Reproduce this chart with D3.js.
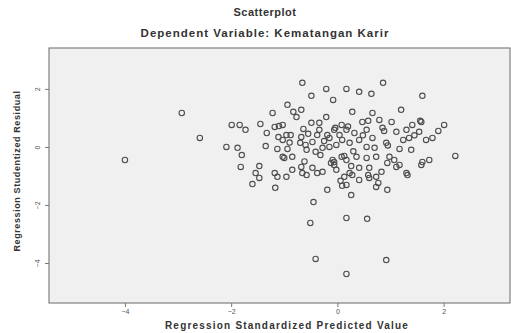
<!DOCTYPE html>
<html>
<head>
<meta charset="utf-8">
<script src="https://cdn.jsdelivr.net/npm/d3@7"></script>
<style>
  body { margin: 0; background: #fff; }
  svg { display: block; font-family: "Liberation Sans", Arial, sans-serif; }
</style>
</head>
<body>
<div id="chart"></div>
<script>
// standardized predicted value (x) and studentized residual (y)
var predicted = [
  -4.00, -2.93, -2.59, -2.09, -1.99, -1.84, -1.73, -1.88, -1.80, -1.82,
  -1.45, -1.47, -1.35, -1.33, -1.22, -1.18, -1.03, -1.11, -0.96, -1.13,
  -1.03, -0.94, -0.85, -0.94, -0.83, -0.77, -0.68, -0.66, -0.49, -0.64,
  -0.68, -0.70, -0.47, -0.49, -0.34, -0.21, -0.08, -0.21, 0.17, -0.34,
  -0.19, -0.06, -0.28, -0.15, -0.41, -0.58, -0.68, -0.58, -0.47, -0.28,
  -0.09, 0.08, 0.09, 0.08, -0.02, 0.13, -1.47, -1.54, -1.18, -1.13,
  -1.17, 0.41, 0.64, 0.86, 1.60, 0.66, 0.28, 1.20, 1.58, 2.01,
  1.41, 1.02, 0.79, 0.47, 0.17, 0.55, 0.85, 1.11, 1.30, 1.54,
  1.79, 1.67, 1.35, 1.17, 1.39, 0.92, 0.66, 0.41, 0.23, -0.02,
  0.55, 0.36, 0.73, 0.98, 0.17, -0.06, 1.60, 1.73, 1.11, 1.30,
  0.83, 0.60, 0.41, 0.23, 0.73, 0.73, 0.09, -0.85, -0.66, -0.96,
  -1.60, -0.19, 0.17, 0.26, 0.28, 0.41, 0.60, 0.94, 0.94, 1.17,
  1.58, 1.32, -0.45, -0.51, 0.17, 0.56, -0.41, 0.92, 0.17, 2.22,
  1.90, 1.56, -1.10, -0.04, 0.04, -0.88, -1.03, -0.60, -0.38, -0.15,
  -0.32, -1.00, -0.38, -0.06, 0.06, 0.58, 0.88, 0.32, 1.24, 0.70,
  0.13, 0.55, 1.07, 0.26, 0.58, 0.77, -0.55, -0.25, 0.30, 0.48,
  -0.12, 0.95, -0.62, 0.20, -0.90, 1.45
];
var residual = [
  -0.45, 1.17, 0.31, 0.00, 0.76, 0.76, 0.59, -0.03, -0.28, -0.69,
  0.79, -0.66, 0.03, 0.48, 1.17, 0.69, 0.76, 0.34, 0.41, -0.07,
  -0.34, -0.07, -0.34, 1.45, 1.21, 1.03, 1.28, 2.21, 1.76, 0.62,
  0.34, 0.14, 0.17, 0.83, 0.83, 1.03, 1.62, 2.00, 2.00, 0.59,
  0.41, 0.59, -0.03, 0.00, -0.17, -0.10, -0.69, -0.97, -0.72, -0.86,
  -0.45, -0.34, 0.24, 0.76, -0.79, -1.03, -1.07, -0.90, -0.90, -1.03,
  -1.41, 1.90, 1.83, 2.21, 1.76, 1.17, 1.21, 1.28, 0.86, 0.76,
  0.76, 0.86, 0.93, 0.86, 0.59, 0.59, 0.66, 0.52, 0.59, 0.52,
  0.31, 0.24, 0.31, -0.07, -0.10, 0.14, 0.31, 0.24, 0.14, 0.07,
  0.00, -0.34, -0.34, -0.34, -0.45, -0.52, -0.52, -0.45, -0.69, -0.90,
  -0.86, -0.72, -0.72, -0.90, -1.03, -1.38, -1.34, -0.79, -0.90, -1.03,
  -1.28, -1.48, -1.31, -1.66, -0.97, -1.14, -1.07, -1.48, -0.55, -0.62,
  -0.62, -0.97, -1.90, -2.62, -2.45, -2.48, -3.86, -3.90, -4.38, -0.31,
  0.55, 0.90, 0.72, 0.66, 0.41, 0.41, 0.24, 0.07, 0.41, 0.31,
  -0.28, -0.38, -0.90, -0.62, -1.17, 0.90, 0.55, 0.48, 0.24, -0.03,
  -0.31, -0.38, -0.45, -0.66, -0.97, -1.24, 0.45, 0.20, -0.15, 0.40,
  -0.55, 0.05, -0.50, 0.70, 0.15, 0.40
];
var xTicks = [-4, -2, 0, 2];
var yTicks = [-4, -2, 0, 2];

var width = 511, height = 333;
var plot = { left: 49, right: 510, top: 48, bottom: 303 };

var svg = d3.select("#chart").append("svg")
  .attr("width", width)
  .attr("height", height);

var x = d3.scaleLinear().domain([-5.43, 3.25]).range([plot.left, plot.right]);
var y = d3.scaleLinear().domain([-5.38, 3.41]).range([plot.bottom, plot.top]);

// plot area
svg.append("rect")
  .attr("x", plot.left)
  .attr("y", plot.top)
  .attr("width", plot.right - plot.left)
  .attr("height", plot.bottom - plot.top)
  .attr("fill", "#f0f0f0")
  .attr("stroke", "#808080")
  .attr("stroke-width", 1.2);

// titles
svg.append("text")
  .attr("x", 265).attr("y", 16)
  .attr("text-anchor", "middle")
  .style("font-size", "11px").style("font-weight", "bold").style("fill", "#333")
  .style("letter-spacing", "0.5px")
  .text("Scatterplot");

svg.append("text")
  .attr("x", 265).attr("y", 37)
  .attr("text-anchor", "middle")
  .style("font-size", "11.5px").style("font-weight", "bold").style("fill", "#333")
  .style("letter-spacing", "1px")
  .text("Dependent Variable: Kematangan Karir");

// x axis
var xAxis = svg.append("g")
  .attr("transform", "translate(0," + plot.bottom + ")")
  .call(d3.axisBottom(x).tickValues(xTicks).tickSize(4).tickPadding(2).tickFormat(d3.format("d")));
xAxis.select(".domain").remove();
xAxis.selectAll("line").attr("stroke", "#777");
xAxis.selectAll("text").style("font-size", "7px").style("fill", "#555")
  .style("font-family", "Liberation Sans, Arial, sans-serif");

// y axis
var yAxis = svg.append("g")
  .attr("transform", "translate(" + plot.left + ",0)")
  .call(d3.axisLeft(y).tickValues(yTicks).tickSize(4).tickPadding(2).tickFormat(d3.format("d")));
yAxis.select(".domain").remove();
yAxis.selectAll("line").attr("stroke", "#777");
yAxis.selectAll("text")
  .attr("x", null).attr("dy", null)
  .attr("transform", "translate(-9,0) rotate(-90)")
  .attr("text-anchor", "middle")
  .style("font-size", "7px").style("fill", "#555")
  .style("font-family", "Liberation Sans, Arial, sans-serif");

// axis titles
svg.append("text")
  .attr("x", 287).attr("y", 329)
  .attr("text-anchor", "middle")
  .style("font-size", "10px").style("font-weight", "bold").style("fill", "#333")
  .style("letter-spacing", "1.2px")
  .text("Regression Standardized Predicted Value");

svg.append("text")
  .attr("transform", "translate(20,171) rotate(-90)")
  .attr("text-anchor", "middle")
  .style("font-size", "9px").style("font-weight", "bold").style("fill", "#333")
  .style("letter-spacing", "0.6px")
  .text("Regression Studentized Residual");

// points
svg.append("g").selectAll("circle")
  .data(predicted.map(function (d, i) { return { px: d, res: residual[i] }; }))
  .enter().append("circle")
  .attr("cx", function (d) { return x(d.px); })
  .attr("cy", function (d) { return y(d.res); })
  .attr("r", 2.7)
  .attr("fill", "none")
  .attr("stroke", "#4d4d4d")
  .attr("stroke-width", 1.1);
</script>
</body>
</html>
